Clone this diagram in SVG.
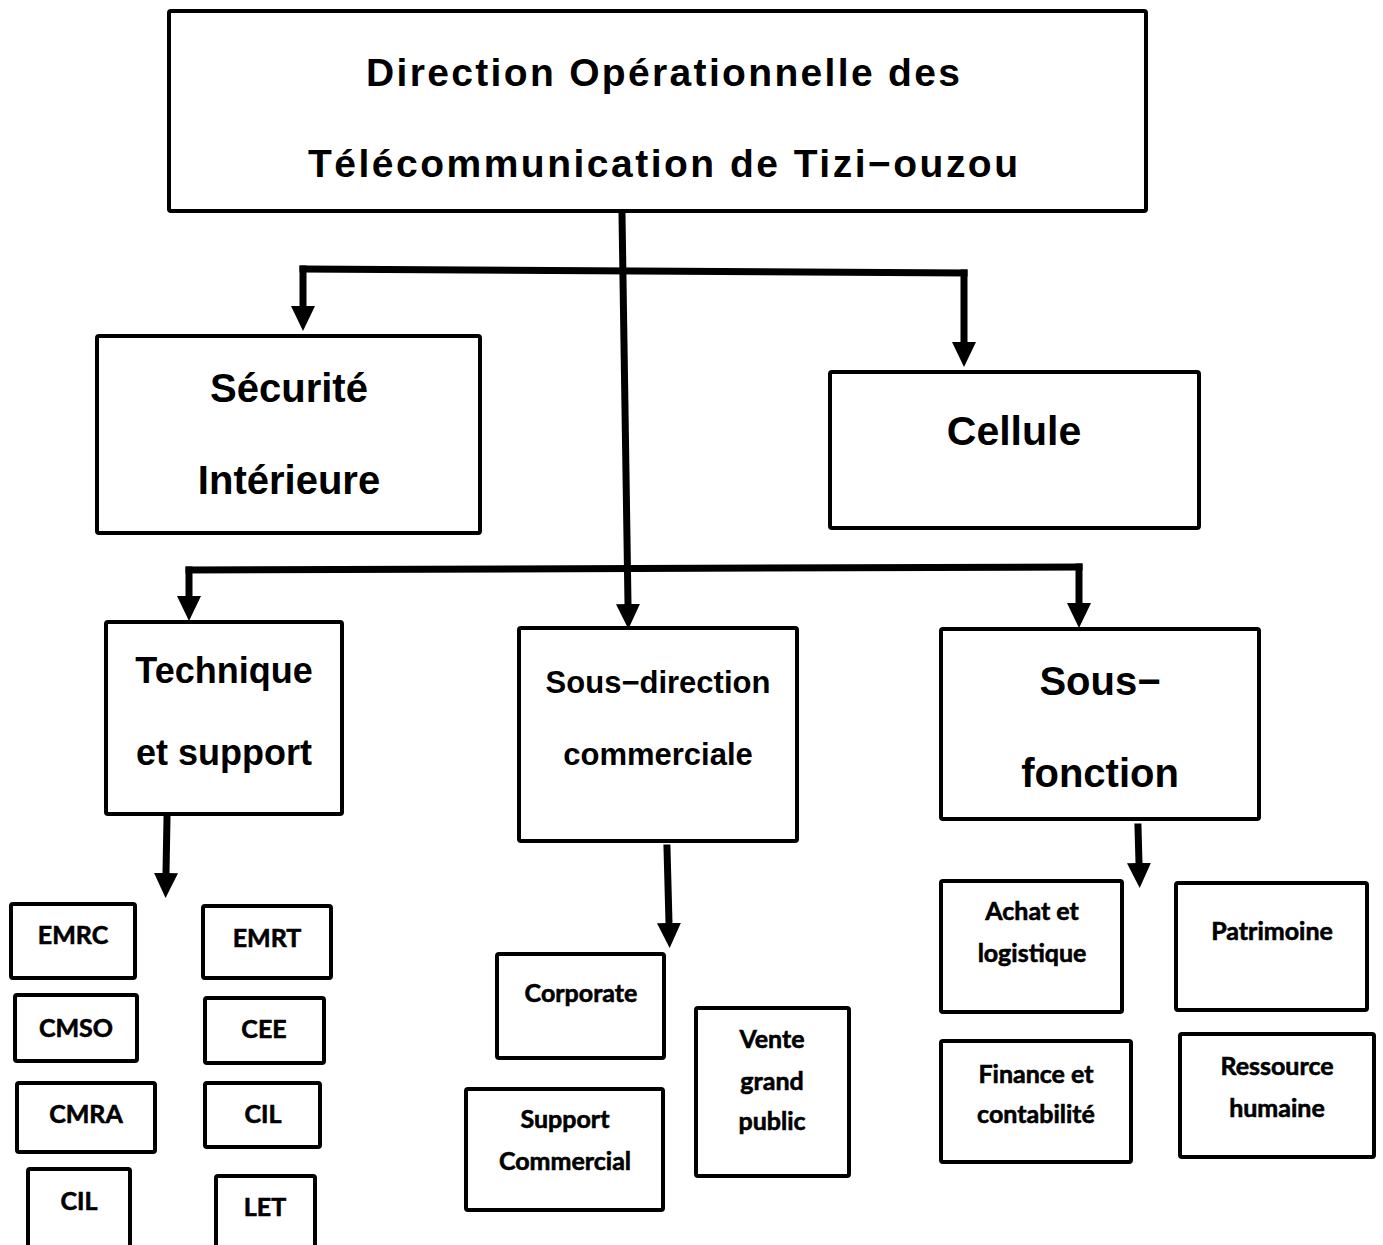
<svg xmlns="http://www.w3.org/2000/svg" width="1383" height="1245" viewBox="0 0 1383 1245">
  <style>
    .box { fill: #ffffff; stroke: #000000; stroke-width: 4; stroke-linejoin: round; }
    .sbox { fill: #ffffff; stroke: #000000; stroke-width: 4; stroke-linejoin: round; }
    .wire { fill: none; stroke: #000000; stroke-width: 7; stroke-linecap: square; stroke-linejoin: miter; }
    .t-main { font-family: "Liberation Sans", Arial, sans-serif; font-weight: bold; font-size: 39px; text-anchor: middle; fill: #000; }
    .t-mid { font-family: "Liberation Sans", Arial, sans-serif; font-weight: bold; text-anchor: middle; fill: #000; }
    .t-small { font-family: Lato, "Open Sans", sans-serif; font-weight: bold; font-size: 25px; text-anchor: middle; fill: #000; stroke: #000; stroke-width: 0.6; }
  </style>
  <defs>
    <marker id="head" markerUnits="userSpaceOnUse" markerWidth="26" markerHeight="24" refX="0" refY="12" orient="auto" viewBox="0 0 26 24">
      <path d="M0,0 L25,12 L0,24 Z" fill="#000000"/>
    </marker>
  </defs>

  <rect width="1383" height="1245" fill="#ffffff"/>

  <!-- connectors -->
  <g id="connectors">
    <path class="wire" d="M622,214 L628,604" marker-end="url(#head)"/>
    <path class="wire" d="M303,269 L964,273"/>
    <path class="wire" d="M303,269 L303,306" marker-end="url(#head)"/>
    <path class="wire" d="M964,273 L964,342" marker-end="url(#head)"/>
    <path class="wire" d="M189,570 L1079,567"/>
    <path class="wire" d="M189,570 L189,596" marker-end="url(#head)"/>
    <path class="wire" d="M1079,567 L1079,603" marker-end="url(#head)"/>
    <path class="wire" d="M167,818 L166,873" marker-end="url(#head)"/>
    <path class="wire" d="M667,848 L669,923" marker-end="url(#head)"/>
    <path class="wire" d="M1138,827 L1139,863" marker-end="url(#head)"/>
  </g>

  <!-- top level -->
  <g id="direction">
    <rect class="box" x="169" y="11" width="977" height="200" rx="2"/>
    <text class="t-main" x="663" y="86" textLength="594">Direction Opérationnelle des</text>
    <text class="t-main" x="663" y="177" textLength="710">Télécommunication de Tizi−ouzou</text>
  </g>

  <!-- second level -->
  <g id="securite">
    <rect class="box" x="97" y="336" width="383" height="197" rx="2"/>
    <text class="t-mid" x="289" y="402" font-size="40">Sécurité</text>
    <text class="t-mid" x="289" y="494" font-size="40">Intérieure</text>
  </g>
  <g id="cellule">
    <rect class="box" x="830" y="372" width="369" height="156" rx="2"/>
    <text class="t-mid" x="1014" y="445" font-size="41">Cellule</text>
  </g>

  <!-- third level -->
  <g id="technique">
    <rect class="box" x="106" y="622" width="236" height="192" rx="2"/>
    <text class="t-mid" x="224" y="683" font-size="36">Technique</text>
    <text class="t-mid" x="224" y="765" font-size="36">et support</text>
  </g>
  <g id="sous-direction">
    <rect class="box" x="519" y="628" width="278" height="213" rx="2"/>
    <text class="t-mid" x="658" y="693" font-size="31">Sous−direction</text>
    <text class="t-mid" x="658" y="765" font-size="31">commerciale</text>
  </g>
  <g id="sous-fonction">
    <rect class="box" x="941" y="629" width="318" height="190" rx="2"/>
    <text class="t-mid" x="1100" y="695" font-size="40">Sous−</text>
    <text class="t-mid" x="1100" y="787" font-size="40">fonction</text>
  </g>

  <!-- technique et support units -->
  <g id="emrc">
    <rect class="sbox" x="11" y="904" width="124" height="74" rx="2"/>
    <text class="t-small" x="73" y="944">EMRC</text>
  </g>
  <g id="emrt">
    <rect class="sbox" x="203" y="906" width="128" height="72" rx="2"/>
    <text class="t-small" x="267" y="947">EMRT</text>
  </g>
  <g id="cmso">
    <rect class="sbox" x="15" y="995" width="122" height="66" rx="2"/>
    <text class="t-small" x="76" y="1037">CMSO</text>
  </g>
  <g id="cee">
    <rect class="sbox" x="205" y="998" width="119" height="65" rx="2"/>
    <text class="t-small" x="264" y="1038">CEE</text>
  </g>
  <g id="cmra">
    <rect class="sbox" x="17" y="1083" width="138" height="69" rx="2"/>
    <text class="t-small" x="86" y="1123">CMRA</text>
  </g>
  <g id="cil-2">
    <rect class="sbox" x="205" y="1083" width="115" height="64" rx="2"/>
    <text class="t-small" x="263" y="1123">CIL</text>
  </g>
  <g id="cil-1">
    <rect class="sbox" x="28" y="1169" width="102" height="80" rx="2"/>
    <text class="t-small" x="79" y="1210">CIL</text>
  </g>
  <g id="let">
    <rect class="sbox" x="216" y="1176" width="99" height="73" rx="2"/>
    <text class="t-small" x="265" y="1216">LET</text>
  </g>

  <!-- commercial units -->
  <g id="corporate">
    <rect class="sbox" x="497" y="954" width="167" height="104" rx="2"/>
    <text class="t-small" x="581" y="1002">Corporate</text>
  </g>
  <g id="vente">
    <rect class="sbox" x="696" y="1008" width="153" height="168" rx="2"/>
    <text class="t-small" x="772" y="1048">Vente</text>
    <text class="t-small" x="772" y="1090">grand</text>
    <text class="t-small" x="772" y="1130">public</text>
  </g>
  <g id="support">
    <rect class="sbox" x="466" y="1089" width="197" height="121" rx="2"/>
    <text class="t-small" x="565" y="1128">Support</text>
    <text class="t-small" x="565" y="1170">Commercial</text>
  </g>

  <!-- sous-fonction units -->
  <g id="achat">
    <rect class="sbox" x="941" y="881" width="181" height="131" rx="2"/>
    <text class="t-small" x="1032" y="920">Achat et</text>
    <text class="t-small" x="1032" y="962">logistique</text>
  </g>
  <g id="patrimoine">
    <rect class="sbox" x="1176" y="883" width="191" height="127" rx="2"/>
    <text class="t-small" x="1272" y="940">Patrimoine</text>
  </g>
  <g id="finance">
    <rect class="sbox" x="941" y="1041" width="190" height="121" rx="2"/>
    <text class="t-small" x="1036" y="1083">Finance et</text>
    <text class="t-small" x="1036" y="1123">contabilité</text>
  </g>
  <g id="rh">
    <rect class="sbox" x="1180" y="1034" width="194" height="123" rx="2"/>
    <text class="t-small" x="1277" y="1075">Ressource</text>
    <text class="t-small" x="1277" y="1117">humaine</text>
  </g>
</svg>
